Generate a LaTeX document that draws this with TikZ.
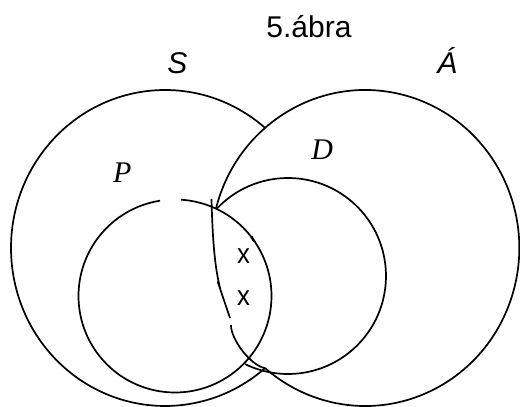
\documentclass[tikz,border=0pt]{standalone}
\usepackage{fontspec}
\setmainfont{Liberation Sans}
\newfontfamily\serifit{Liberation Serif}
\begin{document}
\begin{tikzpicture}[x=1pt,y=1pt,
  curve/.style={line width=1.7pt, line join=round},
  lbl/.style={inner sep=0pt, anchor=base, font=\fontsize{30}{30}\selectfont},
  xmark/.style={inner sep=0pt, anchor=center, font=\fontsize{28}{28}\selectfont, xscale=.92}]
\useasboundingbox (0,0) rectangle (520,407);
% circle S
\draw[curve] ([shift={(49.5:154 and 158)}]165,159) arc[start angle=49.5, end angle=310.5, x radius=154, y radius=158];
% circle A
\draw[curve] ([shift={(165.5:154.1 and 158)}]365.2,159) arc[start angle=165.5, end angle=-130.5, x radius=154.1, y radius=158]
  .. controls (251,41) and (230.5,68) .. (231,82);
% hand drawn part of A
\draw[curve] (211.5,208) .. controls (212.5,170) and (214.5,140) .. (220.3,118) -- (217.8,125) -- (230,89);
% circle P
\draw[curve] ([shift={(86.4:96.5)}]175,111) arc[start angle=86.4, end angle=39, radius=96.5]
  -- (254,165.5) -- (251.8,170.5) -- ([shift={(33:96.5)}]175,111)
  arc[start angle=33, end angle=-261.1, radius=96.5];
% circle D
\draw[curve] ([shift={(136.5:98)}]288,131) arc[start angle=136.5, end angle=-116, radius=98];
% labels
\node[lbl] (title) at (309,369.5) {5.ábra};
\node[lbl, font=\fontsize{30}{30}\selectfont\itshape] (S) at (177.5,333.7) {S};
\node[lbl, font=\fontsize{30}{30}\selectfont\itshape] (A) at (447.5,333.7) {Á};
\node[lbl, font=\fontsize{30}{30}\selectfont\serifit\itshape] (D) at (322.3,247) {D};
\node[lbl, font=\fontsize{30}{30}\selectfont\serifit\itshape] (P) at (122.2,224) {P};
\node[xmark] (x1) at (243.5,151.2) {x};
\node[xmark] (x2) at (243.5,108.7) {x};
\end{tikzpicture}
\end{document}
